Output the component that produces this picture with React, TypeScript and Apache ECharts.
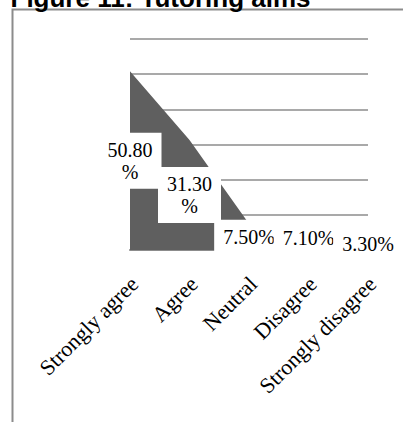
import React, { useEffect, useRef } from "react";
import * as echarts from "echarts";

// Survey responses on tutoring aims (share of respondents, %)
const categories = ["Strongly agree", "Agree", "Neutral", "Disagree", "Strongly disagree"];
const shares = [50.8, 31.3, 7.5, 7.1, 3.3];
const yTicks = [0, 10, 20, 30, 40, 50, 60];

const TITLE = "Figure 11: Tutoring aims";
const SERIF = '"Liberation Serif", "Times New Roman", serif';
const SANS = '"Liberation Sans", Arial, sans-serif';

export default function App() {
  const ref = useRef<HTMLDivElement>(null);

  useEffect(() => {
    if (!ref.current) return;
    const chart = echarts.init(ref.current, undefined, { renderer: "svg" });

    const fmtLabel = (p: any) => {
      const v = Number(p.value);
      const s = v.toFixed(2);
      // wider two-digit values wrap the percent sign onto a second line
      return v >= 10 ? `${s}\n%` : `${s}%`;
    };

    chart.setOption({
      animation: false,
      backgroundColor: "#ffffff",
      graphic: [
        {
          type: "rect",
          silent: true,
          shape: { x: 12.5, y: 9.5, width: 600, height: 600 },
          style: { fill: "none", stroke: "#8c8c8c", lineWidth: 2 },
        },
        {
          type: "text",
          x: 10.5,
          y: -2,
          style: {
            text: TITLE,
            font: `bold 26px ${SANS}`,
            fill: "#000000",
            verticalAlign: "middle",
          },
        },
      ],
      grid: { left: 130, right: 35, top: 39, bottom: 172, containLabel: false },
      xAxis: {
        type: "category",
        data: categories,
        boundaryGap: false,
        axisLine: { show: true, lineStyle: { color: "#8c8c8c", width: 2 } },
        axisTick: { show: false },
        axisLabel: {
          interval: 0,
          rotate: 45,
          margin: 26,
          verticalAlign: "top",
          lineHeight: 12,
          fontFamily: SERIF,
          fontSize: 22,
          color: "#000000",
        },
        splitLine: { show: false },
      },
      yAxis: {
        type: "value",
        min: yTicks[0],
        max: yTicks[yTicks.length - 1],
        interval: 10,
        axisLine: { show: false },
        axisTick: { show: false },
        axisLabel: { show: false },
        splitLine: { show: true, lineStyle: { color: "#8c8c8c", width: 1.5 } },
      },
      series: [
        {
          type: "line",
          data: shares,
          symbol: "none",
          z: 2,
          lineStyle: { width: 0 },
          areaStyle: { color: "#5f5f5f", opacity: 1 },
        },
        {
          // transparent carrier for the value labels, centred on each column's height
          type: "bar",
          data: shares,
          barWidth: 2,
          z: 5,
          itemStyle: { color: "rgba(0,0,0,0)" },
          label: {
            show: true,
            position: "inside",
            formatter: fmtLabel,
            fontFamily: SERIF,
            fontSize: 20,
            lineHeight: 22,
            color: "#000000",
            backgroundColor: "#ffffff",
            padding: [6, 9],
            align: "center",
          },
        },
      ],
    });

    return () => chart.dispose();
  }, []);

  return (
    <div
      ref={ref}
      style={{ position: "fixed", left: 0, top: 0, width: 403, height: 422 }}
    />
  );
}
